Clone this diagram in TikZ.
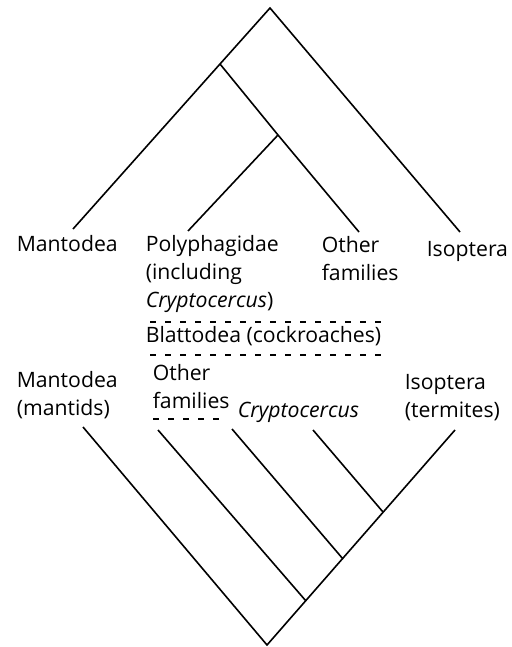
\documentclass[tikz,border=0pt]{standalone}
\usepackage{fontspec}
\setmainfont{Open Sans}
\begin{document}
\begin{tikzpicture}[x=0.5pt,y=-0.5pt,line width=0.8pt,
  lbl/.style={inner sep=0pt,anchor=base west,align=left,font=\fontsize{10.6}{14}\selectfont},
  dashln/.style={dash pattern=on 3pt off 4.5pt,line width=0.7pt}]
\useasboundingbox (0,0) rectangle (512,647);
% upper tree
\coordinate (top) at (270,8);
\coordinate (A) at (220,64);
\coordinate (B) at (278,135);
\coordinate (tMan) at (73,229);
\coordinate (tPoly) at (188,231);
\coordinate (tOth) at (359,232);
\coordinate (tIso) at (460,232);
\draw (tMan) -- (A) -- (top) -- (tIso);
\draw (A) -- (B) -- (tOth);
\draw (B) -- (tPoly);
\node[lbl] (man1) at (16,251) {Mantodea};
\node[lbl] (poly) at (145,307) {Polyphagidae\\(including\\\textit{Cryptocercus})};
\node[lbl] (oth1) at (321,280) {Other\\families};
\node[lbl] (iso1) at (426,256) {Isoptera};
% cockroaches
\draw[dashln] (150,322) -- (390,322);
\node[lbl] (blat) at (145,342) {Blattodea (cockroaches)};
\draw[dashln] (150,355) -- (390,355);
% lower tree
\node[lbl] (man2) at (16,415) {Mantodea\\(mantids)};
\node[lbl] (oth2) at (152,408) {Other\\families};
\draw[dashln] (153,419) -- (225,419);
\node[lbl] (cry) at (237,417) {\textit{Cryptocercus}};
\node[lbl] (iso2) at (404,417) {Isoptera\\(termites)};
\coordinate (bot) at (267,645);
\coordinate (j1) at (306,601);
\coordinate (j2) at (343,559);
\coordinate (j3) at (383,512);
\coordinate (bMan) at (83,427);
\coordinate (bOth) at (158,430);
\coordinate (bOthB) at (232,429);
\coordinate (bCry) at (313,430);
\coordinate (bIso) at (455,430);
\draw (bMan) -- (bot) -- (bIso);
\foreach \a/\b in {bOth/j1, bOthB/j2, bCry/j3}
  \draw (\a) -- (\b);
\end{tikzpicture}
\end{document}
